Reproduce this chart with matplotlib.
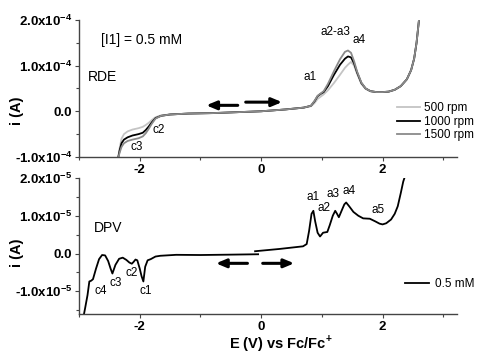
import matplotlib
matplotlib.use("Agg")
import matplotlib.pyplot as plt
from matplotlib.ticker import FixedLocator, MultipleLocator

plt.rcParams['font.family'] = ['Liberation Sans', 'DejaVu Sans']
plt.rcParams['mathtext.fontset'] = 'custom'
plt.rcParams['mathtext.rm'] = 'Liberation Sans'
plt.rcParams['mathtext.bf'] = 'Liberation Sans:bold'

# ---------------- RDE data (current in units of 1e-4 A) ----------------
rde_E = [-2.36, -2.33, -2.30, -2.26, -2.20, -2.12, -2.02, -1.95, -1.90, -1.85,
         -1.80, -1.74, -1.65, -1.50, -1.20, -0.80, -0.40, 0.00, 0.40, 0.70,
         0.82, 0.88, 0.93, 0.98, 1.03, 1.10, 1.20, 1.30, 1.38, 1.43,
         1.48, 1.53, 1.58, 1.65, 1.72, 1.80, 1.90, 2.00, 2.10, 2.20,
         2.30, 2.40, 2.47, 2.52, 2.56, 2.60]
rde_500 = [-1.05, -0.80, -0.60, -0.50, -0.44, -0.40, -0.37, -0.34, -0.30, -0.25,
           -0.19, -0.13, -0.09, -0.07, -0.05, -0.04, -0.02, 0.00, 0.04, 0.08,
           0.11, 0.18, 0.27, 0.32, 0.37, 0.46, 0.62, 0.80, 0.95, 1.02,
           1.08, 1.00, 0.82, 0.60, 0.49, 0.44, 0.42, 0.42, 0.43, 0.47,
           0.55, 0.70, 0.90, 1.15, 1.50, 2.00]
rde_1000 = [-1.05, -0.85, -0.70, -0.62, -0.57, -0.53, -0.50, -0.47, -0.41, -0.33,
            -0.24, -0.15, -0.10, -0.07, -0.05, -0.04, -0.02, 0.00, 0.04, 0.08,
            0.12, 0.22, 0.33, 0.38, 0.42, 0.55, 0.80, 1.02, 1.15, 1.20,
            1.18, 1.05, 0.85, 0.62, 0.50, 0.44, 0.42, 0.42, 0.43, 0.47,
            0.55, 0.70, 0.90, 1.15, 1.50, 2.00]
rde_1500 = [-1.05, -0.90, -0.78, -0.70, -0.65, -0.62, -0.59, -0.55, -0.48, -0.38,
            -0.27, -0.16, -0.10, -0.07, -0.05, -0.04, -0.02, 0.00, 0.04, 0.08,
            0.12, 0.23, 0.34, 0.39, 0.44, 0.60, 0.88, 1.14, 1.30, 1.33,
            1.28, 1.10, 0.87, 0.63, 0.50, 0.44, 0.42, 0.42, 0.43, 0.47,
            0.55, 0.70, 0.90, 1.15, 1.50, 2.00]
rde_labels = ['500 rpm', '1000 rpm', '1500 rpm']
rde_colors = ['#c4c4c4', '#000000', '#8a8a8a']

# ---------------- DPV data (current in units of 1e-5 A) ----------------
dpv_cat_E = [-0.05, -0.50, -1.00, -1.40, -1.66, -1.74, -1.82, -1.87, -1.91, -1.94,
             -1.97, -2.00, -2.04, -2.07, -2.10, -2.13, -2.17, -2.22, -2.28, -2.34,
             -2.40, -2.45, -2.48, -2.52, -2.57, -2.62, -2.67, -2.72, -2.77, -2.80,
             -2.83, -2.86, -2.90, -2.93]
dpv_cat_i = [-0.02, -0.03, -0.04, -0.035, -0.06, -0.08, -0.15, -0.18, -0.35, -0.74,
             -0.60, -0.40, -0.18, -0.16, -0.22, -0.27, -0.24, -0.17, -0.11, -0.14,
             -0.30, -0.53, -0.40, -0.20, -0.05, -0.04, -0.15, -0.40, -0.68, -0.72,
             -0.74, -1.10, -1.45, -1.70]
dpv_an_E = [-0.10, 0.30, 0.69, 0.75, 0.79, 0.83, 0.86, 0.89, 0.93, 0.97,
            1.02, 1.09, 1.13, 1.18, 1.22, 1.25, 1.28, 1.33, 1.37, 1.40,
            1.45, 1.52, 1.60, 1.68, 1.79, 1.88, 1.95, 2.00, 2.06, 2.14,
            2.20, 2.25, 2.30, 2.34, 2.37]
dpv_an_i = [0.06, 0.12, 0.19, 0.25, 0.60, 1.05, 1.13, 0.85, 0.55, 0.45,
            0.55, 0.57, 0.75, 1.00, 1.13, 1.05, 0.96, 1.15, 1.30, 1.35,
            1.25, 1.10, 1.00, 0.93, 0.92, 0.85, 0.79, 0.77, 0.80, 0.90,
            1.05, 1.25, 1.60, 1.90, 2.05]
dpv_label = '0.5 mM'

top_yticks = [-1.0, 0.0, 1.0, 2.0]
top_ylabels = [r'-1.0x10$^{\mathbf{-4}}$', '0.0', r'1.0x10$^{\mathbf{-4}}$', r'2.0x10$^{\mathbf{-4}}$']
bot_yticks = [-1.0, 0.0, 1.0, 2.0]
bot_ylabels = [r'-1.0x10$^{\mathbf{-5}}$', '0.0', r'1.0x10$^{\mathbf{-5}}$', r'2.0x10$^{\mathbf{-5}}$']
xticks = [-2, 0, 2]

fig = plt.figure(figsize=(4.97, 3.58), dpi=100)
ax1 = fig.add_axes([0.159, 0.5615, 0.761, 0.383])
ax2 = fig.add_axes([0.159, 0.123, 0.761, 0.38])

def style(ax, yt, yl):
    for s in ['top', 'right']:
        ax.spines[s].set_visible(False)
    for s in ['left', 'bottom']:
        ax.spines[s].set_color('#444444')
        ax.spines[s].set_linewidth(1.0)
    ax.set_xlim(-3.0, 3.23)
    ax.xaxis.set_major_locator(FixedLocator(xticks))
    ax.xaxis.set_minor_locator(FixedLocator([-3, -1, 1, 3]))
    ax.set_xticklabels([str(t) for t in xticks], fontweight='bold', fontsize=9.5)
    ax.yaxis.set_major_locator(FixedLocator(yt))
    ax.yaxis.set_minor_locator(MultipleLocator(0.5))
    ax.set_yticklabels(yl, fontweight='bold', fontsize=9.5)
    ax.tick_params(which='major', direction='out', length=3, width=0.8, color='#444444', pad=2)
    ax.tick_params(which='minor', direction='out', length=2, width=0.8, color='#444444')
    ax.set_ylabel('i (A)', fontweight='bold', fontsize=10.5, labelpad=2)

# ---- top: RDE ----
for ys, lab, col in zip([rde_500, rde_1000, rde_1500], rde_labels, rde_colors):
    ax1.plot(rde_E, ys, color=col, lw=1.3, label=lab)
ax1.set_ylim(-1.0, 2.0)
style(ax1, top_yticks, top_ylabels)
ax1.yaxis.set_label_coords(-0.145, 0.335)
ax1.annotate('', xy=(-0.95, 0.13), xytext=(-0.34, 0.13),
             arrowprops=dict(arrowstyle='-|>,head_length=0.6,head_width=0.25', color='black', lw=2.2))
ax1.annotate('', xy=(0.39, 0.20), xytext=(-0.30, 0.20),
             arrowprops=dict(arrowstyle='-|>,head_length=0.6,head_width=0.25', color='black', lw=2.2))
ax1.text(-2.64, 1.55, '[I1] = 0.5 mM', fontsize=10, va='center')
ax1.text(-2.85, 0.74, 'RDE', fontsize=10, va='center')
ax1.text(-1.79, -0.42, 'c2', fontsize=8.5, va='center')
ax1.text(-2.15, -0.79, 'c3', fontsize=8.5, va='center')
ax1.text(0.70, 0.74, 'a1', fontsize=8.5, va='center')
ax1.text(0.97, 1.73, 'a2-a3', fontsize=8.5, va='center')
ax1.text(1.51, 1.55, 'a4', fontsize=8.5, va='center')
ax1.legend(loc='lower right', bbox_to_anchor=(1.06, 0.07), frameon=False, fontsize=8.5,
           handlelength=2.0, handletextpad=0.3, labelspacing=0.15, borderpad=0)

# ---- bottom: DPV ----
ax2.plot(dpv_cat_E, dpv_cat_i, color='black', lw=1.3, label=dpv_label)
ax2.plot(dpv_an_E, dpv_an_i, color='black', lw=1.3)
ax2.set_ylim(-1.6, 2.0)
style(ax2, bot_yticks, bot_ylabels)
ax2.yaxis.set_label_coords(-0.145, 0.45)
ax2.annotate('', xy=(-0.79, -0.26), xytext=(-0.18, -0.26),
             arrowprops=dict(arrowstyle='-|>,head_length=0.6,head_width=0.25', color='black', lw=2.2))
ax2.annotate('', xy=(0.59, -0.26), xytext=(-0.02, -0.26),
             arrowprops=dict(arrowstyle='-|>,head_length=0.6,head_width=0.25', color='black', lw=2.2))
ax2.text(-2.75, 0.68, 'DPV', fontsize=10, va='center')
for t, xx, yy in [('c4', -2.75, -1.0), ('c3', -2.5, -0.78), ('c2', -2.23, -0.52), ('c1', -2.0, -0.98),
                  ('a1', 0.74, 1.5), ('a2', 0.92, 1.2), ('a3', 1.08, 1.58), ('a4', 1.34, 1.66), ('a5', 1.82, 1.14)]:
    ax2.text(xx, yy, t, fontsize=8.5, va='center')
ax2.legend(loc='center right', bbox_to_anchor=(1.06, 0.22), frameon=False, fontsize=8.5,
           handlelength=2.0, handletextpad=0.5, borderpad=0)

fig.text(0.565, 0.01, r'E (V) vs Fc/Fc$^{\mathbf{+}}$', fontweight='bold', fontsize=10.5,
         ha='center', va='bottom')

fig.savefig('out.png', dpi=100)
